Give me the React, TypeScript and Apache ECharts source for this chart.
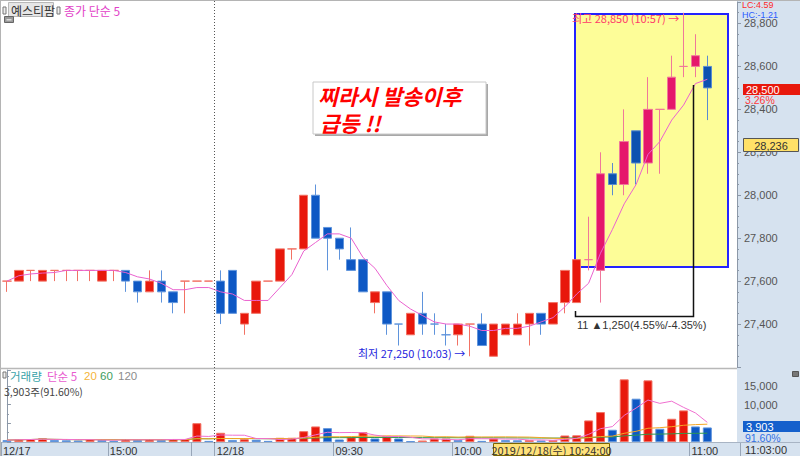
import React, { useEffect, useRef } from 'react';
import * as echarts from 'echarts';

// ---- data (3-minute candles, 예스티팜) ----
const times: string[] = [
  '12/17 14:33', '12/17 14:36', '12/17 14:39', '12/17 14:42', '12/17 14:45', '12/17 14:48',
  '12/17 14:51', '12/17 14:54', '12/17 14:57', '12/17 15:00', '12/17 15:03', '12/17 15:06',
  '12/17 15:09', '12/17 15:12', '12/17 15:15', '12/17 15:18', '12/17 15:30', '12/17 16:00',
  '12/18 09:00', '12/18 09:03', '12/18 09:06', '12/18 09:09', '12/18 09:12', '12/18 09:15',
  '12/18 09:18', '12/18 09:21', '12/18 09:24', '12/18 09:27', '12/18 09:30', '12/18 09:33',
  '12/18 09:36', '12/18 09:39', '12/18 09:42', '12/18 09:45', '12/18 09:48', '12/18 09:51',
  '12/18 09:54', '12/18 09:57', '12/18 10:00', '12/18 10:03', '12/18 10:06', '12/18 10:09',
  '12/18 10:12', '12/18 10:15', '12/18 10:18', '12/18 10:21', '12/18 10:24', '12/18 10:27',
  '12/18 10:30', '12/18 10:33', '12/18 10:36', '12/18 10:39', '12/18 10:42', '12/18 10:45',
  '12/18 10:48', '12/18 10:51', '12/18 10:54', '12/18 10:57', '12/18 11:00', '12/18 11:03',
];

const opens: number[] = [
  27600, 27600, 27650, 27600, 27650, 27650, 27650, 27650, 27600, 27650,
  27650, 27600, 27550, 27600, 27550, 27600, 27600, 27600, 27600, 27650,
  27400, 27450, 27600, 27600, 27750, 27750, 28000, 27850, 27800, 27700,
  27700, 27500, 27550, 27400, 27350, 27450, 27400, 27350, 27350, 27400,
  27400, 27250, 27350, 27350, 27400, 27450, 27400, 27500, 27500, 27700,
  27650, 28100, 28050, 28300, 28150, 28400, 28400, 28600, 28600, 28600,
];
const highs: number[] = [
  27600, 27650, 27650, 27650, 27650, 27650, 27650, 27650, 27650, 27650,
  27650, 27600, 27650, 27650, 27550, 27600, 27600, 27600, 27650, 27650,
  27450, 27600, 27600, 27750, 27750, 28000, 28050, 27850, 27800, 27850,
  27700, 27550, 27550, 27400, 27450, 27550, 27450, 27400, 27400, 27400,
  27450, 27400, 27400, 27450, 27450, 27450, 27500, 27650, 27700, 27900,
  28200, 28150, 28400, 28300, 28550, 28400, 28650, 28850, 28750, 28650,
];
const lows: number[] = [
  27550, 27600, 27600, 27600, 27600, 27600, 27600, 27600, 27600, 27600,
  27550, 27500, 27550, 27500, 27450, 27450, 27600, 27600, 27400, 27450,
  27350, 27450, 27600, 27600, 27700, 27750, 27800, 27650, 27700, 27650,
  27550, 27450, 27350, 27300, 27350, 27350, 27350, 27300, 27300, 27250,
  27300, 27250, 27350, 27350, 27300, 27350, 27400, 27450, 27500, 27650,
  27500, 28000, 28000, 28050, 28100, 28100, 28400, 28550, 28550, 28350,
];
const closes: number[] = [
  27600, 27650, 27650, 27650, 27650, 27650, 27650, 27650, 27650, 27650,
  27600, 27550, 27600, 27550, 27500, 27600, 27600, 27600, 27450, 27450,
  27450, 27600, 27600, 27750, 27750, 28000, 27800, 27800, 27750, 27650,
  27550, 27550, 27400, 27400, 27450, 27400, 27400, 27350, 27400, 27400,
  27300, 27400, 27400, 27400, 27450, 27400, 27500, 27650, 27700, 27700,
  28100, 28050, 28250, 28150, 28400, 28400, 28550, 28600, 28650, 28500,
];
const volumes: number[] = [
  500, 700, 800, 1000, 500, 450, 400, 800, 500, 300,
  800, 500, 800, 500, 800, 800, 5050, 300, 2470, 500,
  750, 600, 300, 1130, 1130, 2900, 4170, 3710, 670, 1290,
  2630, 940, 1670, 940, 200, 400, 940, 940, 500, 1670,
  300, 940, 500, 450, 500, 400, 500, 1750, 1800, 5780,
  8020, 3280, 16800, 11610, 16530, 3550, 6230, 8470, 4170, 3903,
];
const priceTicks = { min: 27200, max: 28900, interval: 200 };
const volumeTicks = { min: 0, max: 19300, interval: 5000 };
const highlightFrom = 49; // candles drawn in the highlighted (selected) colour

// ---- styling ----
const RED = '#e8180c';
const RED_EDGE = '#f27264';
const BLUE = '#0e58c4';
const BLUE_EDGE = '#5f94dc';
const PINK = '#e5176b';
const PINK_EDGE = '#f0789a';
const HBLUE = '#0d52b0';
const HBLUE_EDGE = '#5a8cd0';
const STRIP = '#d6e2ef';
const FONT = "'Liberation Sans', 'Noto Sans CJK KR', sans-serif";
const KFONT = "'Noto Sans CJK KR', 'Liberation Sans', sans-serif";

function movingAverage(values: number[], n: number): number[] {
  return values.map((_, i) => {
    const win = values.slice(Math.max(0, i - n + 1), i + 1);
    return win.reduce((a, b) => a + b, 0) / win.length;
  });
}

function fmt(v: number): string {
  return Math.round(v).toLocaleString('en-US');
}

export default function App() {
  const ref = useRef<HTMLDivElement>(null);

  useEffect(() => {
    if (!ref.current) return;
    const chart = echarts.init(ref.current, undefined, { renderer: 'svg' });

    const cats = [...times, '', ''];

    // candle colour: up red / down blue; flat candles follow previous close, then previous colour
    const dirs: number[] = [];
    closes.forEach((c, i) => {
      const o = opens[i];
      let d: number;
      if (c > o) d = 1;
      else if (c < o) d = -1;
      else if (i > 0 && c > closes[i - 1]) d = 1;
      else if (i > 0 && c < closes[i - 1]) d = -1;
      else d = i > 0 ? dirs[i - 1] : 1;
      dirs.push(d);
    });

    const candleData = closes.map((c, i) => {
      const hl = i >= highlightFrom;
      const up = dirs[i] > 0;
      const fill = up ? (hl ? PINK : RED) : hl ? HBLUE : BLUE;
      const edge = up ? (hl ? PINK_EDGE : RED_EDGE) : hl ? HBLUE_EDGE : BLUE_EDGE;
      return {
        value: [opens[i], c, lows[i], highs[i]],
        itemStyle: { color: fill, color0: fill, borderColor: edge, borderColor0: edge, borderWidth: 1 },
      };
    });

    const volData = volumes.map((v, i) => {
      const up = i > 0 && v >= volumes[i - 1];
      return {
        value: v,
        itemStyle: { color: up ? RED : BLUE, borderColor: up ? RED_EDGE : BLUE_EDGE, borderWidth: 1 },
      };
    });

    const priceMa5 = movingAverage(closes, 5);
    const volMa5 = movingAverage(volumes, 5);
    const volMa20 = movingAverage(volumes, 20);
    const volMa60 = movingAverage(volumes, 60);

    // time-axis ticks sit on candle boundaries
    const labelIdx = [0, 9, 18, 28, 38, 58];
    const tickIdx = [0, 9, 16, 18, 28, 38, 58];
    const timeLabel = (v: number) => {
      const i = Math.round(v + 0.5);
      const t = times[i];
      if (!t) return '';
      const [day, hm] = t.split(' ');
      const prev = times[i - 1];
      if (!prev || prev.split(' ')[0] !== day) return day;
      return hm;
    };

    const txt = (x: number, y: number, text: string, fill: string, size = 11, extra: any = {}, z = 50) => ({
      type: 'text',
      x,
      y,
      z,
      style: { text, fill, fontSize: size, fontFamily: FONT, verticalAlign: 'middle', align: 'left', ...extra },
    });

    const comment = { fontFamily: KFONT, fontWeight: 'bold', fontStyle: 'italic' };

    const graphic: any[] = [
      // axis strips
      { type: 'rect', z: -5, shape: { x: 737, y: 0, width: 63, height: 456 }, style: { fill: STRIP } },
      { type: 'rect', z: -5, shape: { x: 0, y: 443, width: 737, height: 13 }, style: { fill: STRIP } },
      // frame lines
      { type: 'line', z: 40, shape: { x1: 0, y1: 0.5, x2: 800, y2: 0.5 }, style: { stroke: '#b4b4b4', lineWidth: 1 } },
      { type: 'line', z: 40, shape: { x1: 0.5, y1: 0, x2: 0.5, y2: 456 }, style: { stroke: '#b4b4b4', lineWidth: 1 } },
      { type: 'line', z: 40, shape: { x1: 0, y1: 368.5, x2: 737, y2: 368.5 }, style: { stroke: '#b8b8b8', lineWidth: 1.5 } },
      { type: 'line', z: 40, shape: { x1: 737, y1: 442.5, x2: 800, y2: 442.5 }, style: { stroke: '#a8b4c4', lineWidth: 1 } },
      // day separator
      { type: 'line', z: 40, shape: { x1: 214.5, y1: 1, x2: 214.5, y2: 443 }, style: { stroke: '#555', lineWidth: 1, lineDash: [1, 2] } },
      // selection box
      { type: 'rect', z: -1, shape: { x: 575, y: 14, width: 153, height: 253 }, style: { fill: '#fdfd98', stroke: '#2323ff', lineWidth: 2 } },
      // measuring bracket
      { type: 'polyline', z: 30, shape: { points: [[575.5, 311], [575.5, 316.5], [693.5, 316.5], [693.5, 85]] }, style: { stroke: '#111', lineWidth: 1.5, fill: null } },
      txt(577, 324.5, '11 ▲1,250(4.55%/-4.35%)', '#333', 11),
      // high / low labels
      txt(572, 18, '최고 28,850 (10:57) →', '#ff3a6a', 11, { fontFamily: KFONT }),
      txt(358, 352.5, '최저 27,250 (10:03) →', '#2424dd', 11, { fontFamily: KFONT }),
      // comment box
      { type: 'rect', z: 45, shape: { x: 315, y: 84, width: 173, height: 52 }, style: { fill: '#a8a8a8' } },
      { type: 'rect', z: 46, shape: { x: 313, y: 82, width: 173, height: 52 }, style: { fill: '#fff', stroke: '#c8c8c8', lineWidth: 1 } },
      txt(318, 95.5, '찌라시 발송이후', '#ff0000', 21.5, comment, 60),
      txt(320, 122, '급등 !!', '#ff0000', 21.5, comment, 60),
      // top-left legend
      { type: 'rect', z: 50, shape: { x: 3, y: 7, width: 3, height: 7 }, style: { fill: '#eee', stroke: '#777', lineWidth: 1 } },
      { type: 'rect', z: 50, shape: { x: 8.5, y: 2.5, width: 45, height: 14 }, style: { fill: '#e6e6e6', stroke: '#b8b8b8', lineWidth: 1 } },
      txt(11, 10, '예스티팜', '#333', 12, { fontFamily: KFONT }, 52),
      { type: 'rect', z: 50, shape: { x: 57, y: 7, width: 3, height: 7 }, style: { fill: '#eee', stroke: '#777', lineWidth: 1 } },
      txt(64, 10, '종가 단순 5', '#e23fc8', 12, { fontFamily: KFONT }),
      { type: 'rect', z: 50, shape: { x: 4.5, y: 16.5, width: 9, height: 6 }, style: { fill: '#999', stroke: '#666', lineWidth: 1 } },
      { type: 'rect', z: 51, shape: { x: 6.5, y: 19, width: 5, height: 1.5 }, style: { fill: '#ddd' } },
      // volume legend
      { type: 'rect', z: 50, shape: { x: 3, y: 372, width: 3, height: 6 }, style: { fill: '#eee', stroke: '#777', lineWidth: 1 } },
      txt(10, 375.5, '거래량', '#37a2a8', 11.5, { fontFamily: KFONT }),
      txt(47, 375.5, '단순 5', '#e85ccf', 11.5, { fontFamily: KFONT }),
      txt(84, 375.5, '20', '#f5b53a', 11.5),
      txt(100, 375.5, '60', '#3e9e5e', 11.5),
      txt(118, 375.5, '120', '#8c8c8c', 11.5),
      txt(4, 391, '3,903주(91.60%)', '#444', 10.5, { fontFamily: KFONT }),
      // right-axis overlays
      txt(742, 4.5, 'LC:4.59', '#ff2a2a', 9),
      txt(742, 14.5, 'HC:-1.21', '#2a5cff', 9),
      { type: 'rect', z: 55, shape: { x: 743, y: 84, width: 57, height: 11 }, style: { fill: '#e8180c' } },
      txt(746, 90, '28,500', '#ffffff', 11, {}, 56),
      txt(745, 99.5, '3.26%', '#ff3a3a', 10.5),
      { type: 'rect', z: 55, shape: { x: 743.5, y: 138.5, width: 55, height: 13 }, style: { fill: '#ffe068', stroke: '#555', lineWidth: 1 } },
      txt(771, 145.5, '28,236', '#333', 11, { align: 'center' }, 57),
      { type: 'rect', z: 55, shape: { x: 743, y: 421, width: 57, height: 11 }, style: { fill: '#1560cc' } },
      txt(746, 427, '3,903', '#ffffff', 11, {}, 57),
      txt(745, 437.5, '91.60%', '#2f6fe4', 10.5),
      { type: 'rect', z: 50, shape: { x: 792.5, y: 371.5, width: 6, height: 5 }, style: { fill: '#777', stroke: '#555', lineWidth: 1 } },
      // time cursor label
      { type: 'rect', z: 55, shape: { x: 493.5, y: 443.5, width: 116, height: 12 }, style: { fill: '#ffe27a', stroke: '#7a6400', lineWidth: 1 } },
      txt(551.5, 449.5, '2019/12/18(수) 10:24:00', '#333', 11, { align: 'center', fontFamily: KFONT }, 57),
      { type: 'line', z: 40, shape: { x1: 740.5, y1: 443, x2: 740.5, y2: 456 }, style: { stroke: '#98a6b8', lineWidth: 1 } },
      txt(745, 449.5, '11:03:00', '#333', 11),
    ];

    const priceLabel = { margin: 7, fontSize: 11, color: '#555', fontFamily: FONT, showMinLabel: false, showMaxLabel: false, formatter: (v: number) => fmt(v) };
    // the 5,000 label sits under the current-volume marker, as in the reference
    const volLabel = { ...priceLabel, formatter: (v: number) => (v < 2 * volumeTicks.interval ? '' : fmt(v)) };

    chart.setOption({
      animation: false,
      textStyle: { fontFamily: FONT },
      grid: [
        { left: 1, right: 63, top: 2, height: 365 },
        { left: 1, right: 63, top: 370, height: 72 },
      ],
      xAxis: [
        { type: 'category', gridIndex: 0, position: 'bottom', data: cats, boundaryGap: true, axisLine: { show: false }, axisTick: { show: false }, axisLabel: { show: false }, splitLine: { show: false } },
        { type: 'category', gridIndex: 1, position: 'top', data: cats, boundaryGap: true, axisLine: { show: false }, axisTick: { show: false }, axisLabel: { show: false }, splitLine: { show: false } },
        {
          type: 'value', gridIndex: 1, position: 'bottom', min: -0.5, max: cats.length - 0.5,
          axisLine: { show: true, lineStyle: { color: '#a8b4c4' } },
          axisTick: { show: true, customValues: tickIdx.map((i) => i - 0.5), length: 14, lineStyle: { color: '#98a6b8' } },
          axisLabel: { customValues: labelIdx.map((i) => i - 0.5), formatter: timeLabel, align: 'left', margin: 3, padding: [0, 0, 0, 2], fontSize: 11, color: '#333', fontFamily: FONT, showMinLabel: true, showMaxLabel: true },
          splitLine: { show: false },
        },
      ],
      yAxis: [
        {
          type: 'value', gridIndex: 0, position: 'right', min: priceTicks.min, max: priceTicks.max, interval: priceTicks.interval,
          axisLine: { show: true, lineStyle: { color: '#8c98a8' } },
          axisTick: { show: true, length: 4, lineStyle: { color: '#8c98a8' } },
          minorTick: { show: true, splitNumber: 4, length: 2, lineStyle: { color: '#8c98a8' } },
          axisLabel: priceLabel,
          splitLine: { show: false },
        },
        {
          type: 'value', gridIndex: 1, position: 'right', min: volumeTicks.min, max: volumeTicks.max, interval: volumeTicks.interval,
          axisLine: { show: true, lineStyle: { color: '#8c98a8' } },
          axisTick: { show: true, length: 4, lineStyle: { color: '#8c98a8' } },
          minorTick: { show: true, splitNumber: 2, length: 2, lineStyle: { color: '#8c98a8' } },
          axisLabel: volLabel,
          splitLine: { show: false },
        },
      ],
      series: [
        { type: 'candlestick', xAxisIndex: 0, yAxisIndex: 0, barWidth: 9, data: candleData, z: 3 },
        { type: 'line', xAxisIndex: 0, yAxisIndex: 0, data: priceMa5, symbol: 'none', lineStyle: { color: '#ea62cf', width: 1 }, z: 4 },
        { type: 'bar', xAxisIndex: 1, yAxisIndex: 1, barWidth: 9, data: volData, z: 3 },
        { type: 'line', xAxisIndex: 1, yAxisIndex: 1, data: volMa60, symbol: 'none', lineStyle: { color: '#2e9a4e', width: 1 }, z: 4 },
        { type: 'line', xAxisIndex: 1, yAxisIndex: 1, data: volMa20, symbol: 'none', lineStyle: { color: '#f5a623', width: 1 }, z: 4 },
        { type: 'line', xAxisIndex: 1, yAxisIndex: 1, data: volMa5, symbol: 'none', lineStyle: { color: '#f070d0', width: 1 }, z: 4 },
      ],
      graphic,
    });

    return () => chart.dispose();
  }, []);

  return <div ref={ref} style={{ position: 'fixed', left: 0, top: 0, width: 800, height: 456, background: '#fff' }} />;
}
